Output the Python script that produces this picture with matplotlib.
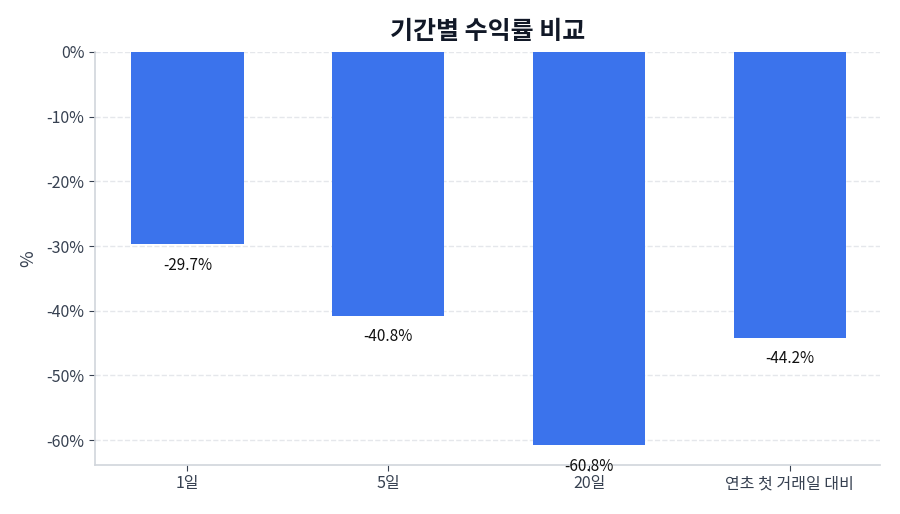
import matplotlib
matplotlib.use('Agg')
import matplotlib.pyplot as plt
from matplotlib.ticker import FuncFormatter

plt.rcParams['font.family'] = ['Noto Sans CJK KR', 'DejaVu Sans']

periods = ['1일', '5일', '20일', '연초 첫 거래일 대비']
returns = [-29.7, -40.8, -60.8, -44.2]
yticks = [0, -10, -20, -30, -40, -50, -60]

fig = plt.figure(figsize=(9, 5.14), dpi=100)
ax = fig.add_axes([0.1056, 0.0953, 0.8724, 0.8037])

x = range(len(periods))
ax.bar(x, returns, width=0.56, color='#3b73ec', zorder=3)

for i, v in enumerate(returns):
    ax.annotate(f'{v:.1f}%', (i, v), xytext=(0, -9), textcoords='offset points',
                ha='center', va='top', fontsize=11, color='#111111')

ax.set_xlim(-0.46, 3.45)
ax.set_ylim(min(returns) * 1.05, 0)
ax.set_xticks(list(x))
ax.set_xticklabels(periods)
ax.set_yticks(yticks)
ax.yaxis.set_major_formatter(FuncFormatter(lambda v, p: f'{v:.0f}%'))
ax.tick_params(colors='#374151', labelsize=11.5, length=4)
ax.set_ylabel('%', fontsize=13, color='#374151', labelpad=7)

ax.grid(axis='y', linestyle='--', color='#e5e7eb', linewidth=1, zorder=0)
for s in ['top', 'right']:
    ax.spines[s].set_visible(False)
for s in ['left', 'bottom']:
    ax.spines[s].set_color('#d1d5db')
    ax.spines[s].set_linewidth(1.2)

ax.set_title('기간별 수익률 비교', fontsize=18, fontweight='bold', color='#111827', pad=9)

fig.savefig('out.png', dpi=100)
